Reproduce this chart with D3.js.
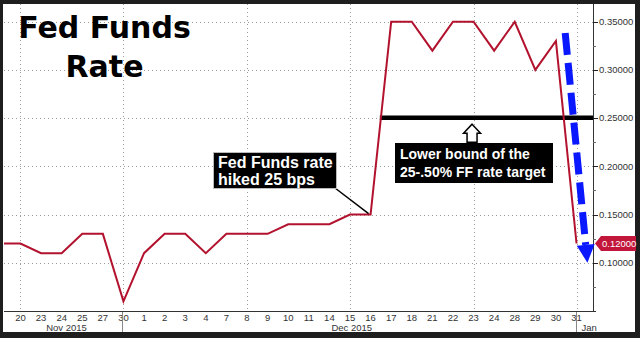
<!DOCTYPE html>
<html><head><meta charset="utf-8">
<script src="https://cdn.jsdelivr.net/npm/d3@7"></script>
<style>body{margin:0;background:#1e1e1e}svg{display:block}</style>
</head><body><svg id="c" width="640" height="338"></svg>
<script>
// ---- data ----
const dayLabels = ["19","20","23","24","25","27","30","1","2","3","4","7","8","9","10","11","14","15","16","17","18","21","22","23","24","28","29","30","31"];
const rates = [0.12,0.12,0.11,0.11,0.13,0.13,0.06,0.11,0.13,0.13,0.11,0.13,0.13,0.13,0.14,0.14,0.14,0.15,0.15,0.35,0.35,0.32,0.35,0.35,0.32,0.35,0.30,0.33,0.12];
const yTicks = [0.10,0.15,0.20,0.25,0.30,0.35];
const yMinor = [0.075,0.125,0.175,0.225,0.275,0.325];
const gridDays = ["20","30","8","15","23","31"]; // indices used for vertical grid
const gridIdx = [0,5,11,16,22,27];
const months = ["Nov 2015","Dec 2015","Jan"];
const lowerBound = 0.25;
const lastValue = 0.12;

const svg = d3.select("#c");
const L=4, R=593, T=4, B=311;
// index: 20 Nov = 0, 19 Nov = -1
const x = d3.scaleLinear().domain([-0.8,27.8]).range([L,R]);
const y = d3.scaleLinear().domain([0.05,0.3684]).range([B,T]);

// frame
svg.append("rect").attr("width",640).attr("height",338).attr("fill","#1e1e1e");
svg.append("rect").attr("x",3).attr("y",4).attr("width",632).attr("height",328).attr("fill","#fff");

svg.append("clipPath").attr("id","cp").append("rect").attr("x",L).attr("y",T).attr("width",R-L).attr("height",B-T);

// grid
svg.append("g").selectAll("line").data(yTicks).join("line")
  .attr("x1",L).attr("x2",R).attr("y1",d=>Math.round(y(d))+0.5).attr("y2",d=>Math.round(y(d))+0.5)
  .attr("stroke","#9a9a9a").attr("stroke-dasharray","1,3");
svg.append("g").selectAll("line").data(gridIdx).join("line")
  .attr("x1",d=>Math.round(x(d))+0.5).attr("x2",d=>Math.round(x(d))+0.5).attr("y1",T).attr("y2",B)
  .attr("stroke","#9a9a9a").attr("stroke-dasharray","1,3");

// axes lines
svg.append("line").attr("x1",L).attr("x2",R+3).attr("y1",B+0.5).attr("y2",B+0.5).attr("stroke","#333");
svg.append("line").attr("x1",R+0.5).attr("x2",R+0.5).attr("y1",T).attr("y2",B+0.5).attr("stroke","#333");

// y ticks
const yt = svg.append("g");
yt.selectAll("line.maj").data(yTicks).join("line").attr("class","maj")
  .attr("x1",R).attr("x2",R+5).attr("y1",d=>Math.round(y(d))+0.5).attr("y2",d=>Math.round(y(d))+0.5).attr("stroke","#222");
yt.selectAll("line.min").data(yMinor).join("line").attr("class","min")
  .attr("x1",R).attr("x2",R+3).attr("y1",d=>Math.round(y(d))+0.5).attr("y2",d=>Math.round(y(d))+0.5).attr("stroke","#666");
yt.selectAll("text").data(yTicks).join("text")
  .attr("x",R+6).attr("y",d=>y(d)+3.2).text(d=>d.toFixed(5))
  .attr("font-family","Liberation Sans, Arial, sans-serif").attr("font-size",9.5).attr("fill","#333");

// x tick labels
const xl = svg.append("g");
xl.selectAll("text").data(dayLabels.map((d,i)=>({d,i:i-1})).filter(o=>o.i>=0)).join("text")
  .attr("x",o=>x(o.i)).attr("y",321).attr("text-anchor","middle").text(o=>o.d)
  .attr("font-family","Liberation Sans, Arial, sans-serif").attr("font-size",9.5).attr("fill","#333");
// month separators & labels
svg.append("g").selectAll("line").data([5,27]).join("line")
  .attr("x1",d=>Math.round(x(d))-0.5).attr("x2",d=>Math.round(x(d))-0.5).attr("y1",B+1).attr("y2",332)
  .attr("stroke","#888");
const monthX = [x(1.25), x(15.1), x(27)+5];
svg.append("g").selectAll("text").data(months).join("text")
  .attr("x",(d,i)=>monthX[i]).attr("y",331).text(d=>d)
  .attr("font-family","Liberation Sans, Arial, sans-serif").attr("font-size",9.5).attr("fill","#333");

// lower bound line
svg.append("line").attr("x1",x(17.45)).attr("x2",R).attr("y1",y(lowerBound)-0.5).attr("y2",y(lowerBound)-0.5)
  .attr("stroke","#000").attr("stroke-width",4.5);

// data line
const line = d3.line().x((d,i)=>x(i-1)).y(d=>y(d));
svg.append("path").datum(rates).attr("d",line).attr("clip-path","url(#cp)")
  .attr("fill","none").attr("stroke","#b3122e").attr("stroke-width",2).attr("stroke-linejoin","miter");

// hollow up arrow
const ax = x(22)-1.5, ay = y(lowerBound)+6;
svg.append("path").attr("d",`M${ax},${ay} L${ax+8.5},${ay+9} L${ax+5},${ay+9} L${ax+5},${ay+18} L${ax-5},${ay+18} L${ax-5},${ay+9} L${ax-8.5},${ay+9} Z`)
  .attr("fill","#fff").attr("stroke","#000").attr("stroke-width",1.5).attr("stroke-linejoin","miter");

// Lower bound box
svg.append("rect").attr("x",395).attr("y",143).attr("width",158).attr("height",40).attr("fill","#000");
const lb = svg.append("text").attr("font-family","Liberation Sans, Arial, sans-serif").attr("font-weight","bold")
  .attr("font-size",14).attr("fill","#fff");
lb.append("tspan").attr("x",400).attr("y",159).text("Lower bound of the");
lb.append("tspan").attr("x",400).attr("y",177).text("25-.50% FF rate target");

// Fed Funds rate hiked box + leader
svg.append("line").attr("x1",335).attr("y1",188).attr("x2",x(17)-2).attr("y2",y(0.15)-1).attr("stroke","#000").attr("stroke-width",1.5);
svg.append("rect").attr("x",213.5).attr("y",152.5).attr("width",123).attr("height",36).attr("fill","#000").attr("stroke","#bbb").attr("stroke-width",1);
const fb = svg.append("text").attr("font-family","Liberation Sans, Arial, sans-serif").attr("font-weight","bold")
  .attr("font-size",16).attr("fill","#fff");
fb.append("tspan").attr("x",218).attr("y",167.5).text("Fed Funds rate");
fb.append("tspan").attr("x",218).attr("y",185).text("hiked 25 bps");

// blue dashed arrow
const bx1 = x(26.45), by1 = y(0.3383), tipX = x(27.53), tipY = y(0.10);
const ang = Math.atan2(tipY-by1, tipX-bx1);
const headLen = 18, bx2 = tipX - Math.cos(ang)*headLen, by2 = tipY - Math.sin(ang)*headLen;
svg.append("line").attr("x1",bx1).attr("y1",by1).attr("x2",bx2).attr("y2",by2)
  .attr("stroke","#0a18ff").attr("stroke-width",7).attr("stroke-dasharray","22,8");
const px = -Math.sin(ang), py = Math.cos(ang);
svg.append("path").attr("d",`M${tipX},${tipY} L${bx2+px*9},${by2+py*9} L${bx2-px*9},${by2-py*9} Z`).attr("fill","#0a18ff");

// last value label
const ly = y(lastValue);
svg.append("path").attr("d",`M595,${ly} L601,${ly-7.5} L636,${ly-7.5} L636,${ly+7.5} L601,${ly+7.5} Z`).attr("fill","#c2163a");
svg.append("text").attr("x",602).attr("y",ly+3.5).text(lastValue.toFixed(5))
  .attr("font-family","Liberation Sans, Arial, sans-serif").attr("font-size",9.5).attr("fill","#fff");

// title
const tt = svg.append("text").attr("font-family","DejaVu Sans, Verdana, sans-serif").attr("font-weight","bold")
  .attr("font-size",30).attr("fill","#000").attr("text-anchor","middle");
tt.append("tspan").attr("x",104.5).attr("y",38).text("Fed Funds");
tt.append("tspan").attr("x",104.5).attr("y",77).text("Rate");
</script></body></html>
